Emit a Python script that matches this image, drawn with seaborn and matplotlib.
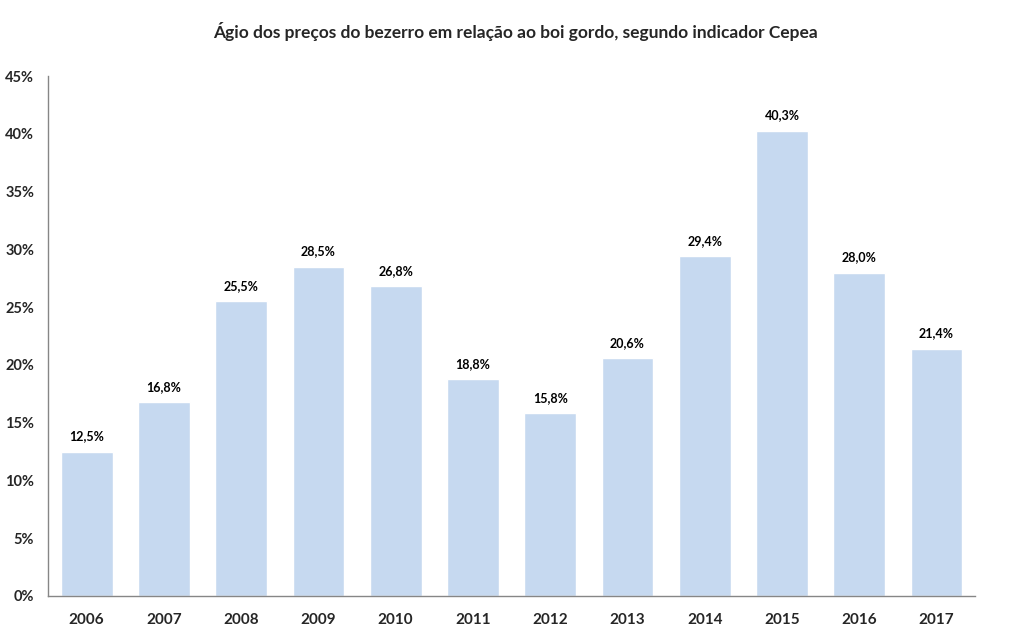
import numpy as np
import pandas as pd
import matplotlib
matplotlib.use('Agg')
import matplotlib.pyplot as plt
import seaborn as sns
from matplotlib.ticker import FixedLocator, PercentFormatter

### data
anos = ['2006', '2007', '2008', '2009', '2010', '2011',
        '2012', '2013', '2014', '2015', '2016', '2017']
agio = [12.5, 16.8, 25.5, 28.5, 26.8, 18.8, 15.8, 20.6, 29.4, 40.3, 28.0, 21.4]
rotulos = ['12,5%', '16,8%', '25,5%', '28,5%', '26,8%', '18,8%',
           '15,8%', '20,6%', '29,4%', '40,3%', '28,0%', '21,4%']

df = pd.DataFrame({'Ano': anos, 'Agio': agio})

sns.set_style('white')
plt.rcParams['font.family'] = ['Lato', 'DejaVu Sans']

fig = plt.figure(figsize=(10.11, 6.3), dpi=100)
ax = fig.add_axes([0.0475, 0.054, 0.917, 0.825])

sns.barplot(data=df, x='Ano', y='Agio', color='#c6d9f0', width=0.67,
            saturation=1, ax=ax)

for i, (v, t) in enumerate(zip(agio, rotulos)):
    ax.text(i, v + 0.8, t, ha='center', va='bottom', fontsize=9,
            fontweight='bold', color='black')

ax.set_xlim(-0.5, len(anos) - 0.5)
ax.set_ylim(0, 45)
ax.set_yticks(np.arange(0, 46, 5))
ax.yaxis.set_major_formatter(PercentFormatter(decimals=0))

# excel style: ticks between the categories
ax.xaxis.set_minor_locator(FixedLocator(np.arange(-0.5, len(anos), 1)))
ax.tick_params(axis='x', which='major', length=0, pad=12)
ax.tick_params(axis='x', which='minor', length=5, color='#868686', width=1)
ax.tick_params(axis='y', length=5, color='#868686', width=1, pad=5)
for lbl in ax.get_xticklabels():
    lbl.set_fontweight('bold')
    lbl.set_fontsize(11)
for lbl in ax.get_yticklabels():
    lbl.set_fontweight('bold')
    lbl.set_fontsize(10.5)

for s in ['top', 'right']:
    ax.spines[s].set_visible(False)
for s in ['left', 'bottom']:
    ax.spines[s].set_color('#868686')
    ax.spines[s].set_linewidth(1)

ax.set_xlabel('')
ax.set_ylabel('')
fig.suptitle('Ágio dos preços do bezerro em relação ao boi gordo, segundo indicador Cepea',
             x=0.51, y=0.965, fontsize=12.5, fontweight='bold')

fig.savefig('out.png', dpi=100)
